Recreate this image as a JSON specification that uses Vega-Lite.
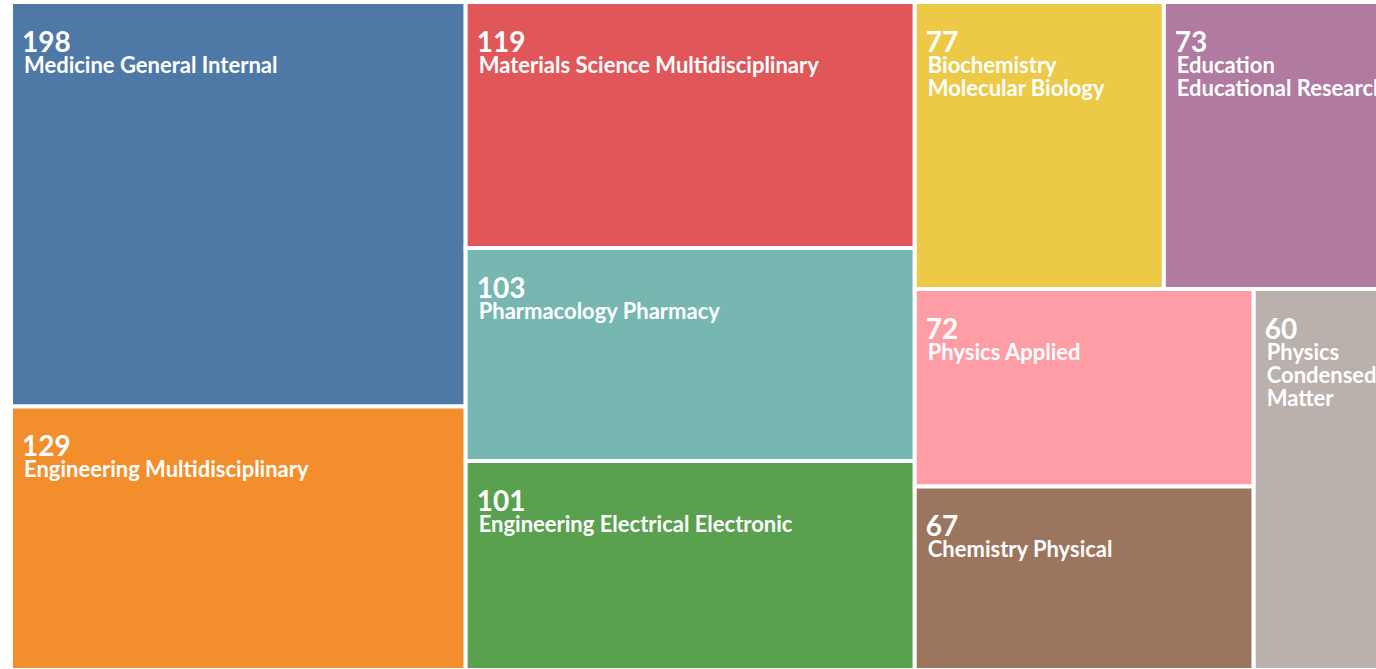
{
  "$schema": "https://vega.github.io/schema/vega-lite/v6.json",
  "width": 1389,
  "height": 668,
  "autosize": "none",
  "padding": {"left": 11, "top": 2, "right": 0, "bottom": 0},
  "background": "white",
  "config": {"view": {"stroke": null}},
  "data": {"values": [
    {"name": "Medicine General Internal", "label": "Medicine General Internal", "value": 198, "g1": 1, "g2": 1, "g3": 1, "g4": 1},
    {"name": "Engineering Multidisciplinary", "label": "Engineering Multidisciplinary", "value": 129, "g1": 1, "g2": 2, "g3": 1, "g4": 1},
    {"name": "Materials Science Multidisciplinary", "label": "Materials Science Multidisciplinary", "value": 119, "g1": 2, "g2": 1, "g3": 1, "g4": 1},
    {"name": "Pharmacology Pharmacy", "label": "Pharmacology Pharmacy", "value": 103, "g1": 2, "g2": 2, "g3": 1, "g4": 1},
    {"name": "Engineering Electrical Electronic", "label": "Engineering Electrical Electronic", "value": 101, "g1": 2, "g2": 3, "g3": 1, "g4": 1},
    {"name": "Biochemistry Molecular Biology", "label": "Biochemistry\nMolecular Biology", "value": 77, "g1": 3, "g2": 1, "g3": 1, "g4": 1},
    {"name": "Education Educational Research", "label": "Education\nEducational Research", "value": 73, "g1": 3, "g2": 1, "g3": 2, "g4": 1},
    {"name": "Physics Applied", "label": "Physics Applied", "value": 72, "g1": 3, "g2": 2, "g3": 1, "g4": 1},
    {"name": "Chemistry Physical", "label": "Chemistry Physical", "value": 67, "g1": 3, "g2": 2, "g3": 1, "g4": 2},
    {"name": "Physics Condensed Matter", "label": "Physics\nCondensed\nMatter", "value": 60, "g1": 3, "g2": 2, "g3": 2, "g4": 1}
  ]},
  "transform": [
    {"joinaggregate": [{"op": "sum", "field": "value", "as": "total"}]},
    {"joinaggregate": [{"op": "sum", "field": "value", "as": "s1"}], "groupby": ["g1"]},
    {"window": [{"op": "sum", "field": "value", "as": "c1"}], "sort": [{"field": "g1"}], "frame": [null, 0]},
    {"joinaggregate": [{"op": "sum", "field": "value", "as": "s2"}], "groupby": ["g1", "g2"]},
    {"window": [{"op": "sum", "field": "value", "as": "c2"}], "groupby": ["g1"], "sort": [{"field": "g2"}], "frame": [null, 0]},
    {"joinaggregate": [{"op": "sum", "field": "value", "as": "s3"}], "groupby": ["g1", "g2", "g3"]},
    {"window": [{"op": "sum", "field": "value", "as": "c3"}], "groupby": ["g1", "g2"], "sort": [{"field": "g3"}], "frame": [null, 0]},
    {"joinaggregate": [{"op": "sum", "field": "value", "as": "s4"}], "groupby": ["g1", "g2", "g3", "g4"]},
    {"window": [{"op": "sum", "field": "value", "as": "c4"}], "groupby": ["g1", "g2", "g3"], "sort": [{"field": "g4"}], "frame": [null, 0]},
    {"calculate": "(datum.c1 - datum.s1) / datum.total", "as": "X0"},
    {"calculate": "datum.c1 / datum.total", "as": "X1"},
    {"calculate": "(datum.c2 - datum.s2) / datum.s1", "as": "Y0"},
    {"calculate": "datum.c2 / datum.s1", "as": "Y1"},
    {"calculate": "datum.X0 + (datum.c3 - datum.s3) / datum.s2 * (datum.X1 - datum.X0)", "as": "x0"},
    {"calculate": "datum.X0 + datum.c3 / datum.s2 * (datum.X1 - datum.X0)", "as": "x1"},
    {"calculate": "datum.Y0 + (datum.c4 - datum.s4) / datum.s3 * (datum.Y1 - datum.Y0)", "as": "y0"},
    {"calculate": "datum.Y0 + datum.c4 / datum.s3 * (datum.Y1 - datum.Y0)", "as": "y1"}
  ],
  "encoding": {
    "x": {"field": "x0", "type": "quantitative", "scale": {"domain": [0, 1], "nice": false}, "axis": null},
    "y": {"field": "y0", "type": "quantitative", "scale": {"domain": [0, 1], "nice": false, "reverse": true}, "axis": null}
  },
  "layer": [
    {
      "mark": {"type": "rect", "stroke": "white", "strokeWidth": 4},
      "encoding": {
        "x2": {"field": "x1"},
        "y2": {"field": "y1"},
        "color": {
          "field": "name", "type": "nominal", "legend": null,
          "scale": {
            "domain": ["Medicine General Internal", "Engineering Multidisciplinary", "Materials Science Multidisciplinary", "Pharmacology Pharmacy", "Engineering Electrical Electronic", "Biochemistry Molecular Biology", "Education Educational Research", "Physics Applied", "Chemistry Physical", "Physics Condensed Matter"],
            "range": ["#4e79a7", "#f28e2b", "#e15759", "#76b7b2", "#59a14f", "#edc948", "#b07aa1", "#ff9da7", "#9c755f", "#bab0ac"]
          }
        }
      }
    },
    {
      "mark": {"type": "text", "align": "left", "baseline": "alphabetic", "dx": 11, "dy": 50, "font": "Lato", "fontSize": 28, "fontWeight": "bold", "color": "white"},
      "encoding": {"text": {"field": "value", "type": "quantitative"}}
    },
    {
      "mark": {"type": "text", "align": "left", "baseline": "alphabetic", "dx": 13, "dy": 71, "font": "Lato", "fontSize": 22, "fontWeight": "bold", "color": "white", "lineBreak": "\n", "lineHeight": 23},
      "encoding": {"text": {"field": "label", "type": "nominal"}}
    }
  ]
}
